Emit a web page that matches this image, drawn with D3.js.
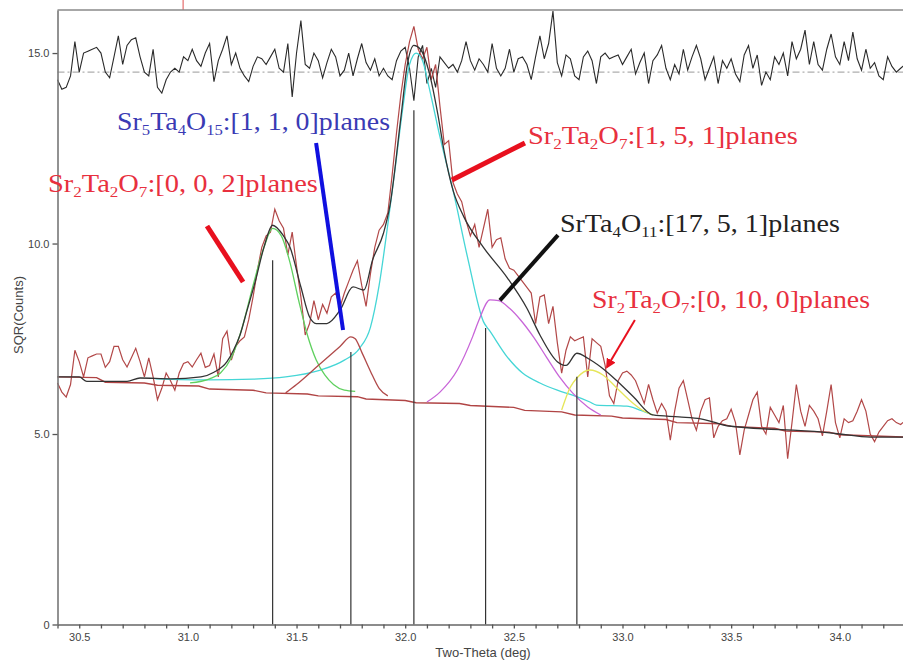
<!DOCTYPE html>
<html>
<head>
<meta charset="utf-8">
<script src="https://cdn.jsdelivr.net/npm/d3@7"></script>
<style>
  html, body { margin: 0; padding: 0; background: #fff; }
  svg { display: block; }
</style>
</head>
<body>
<svg id="chart" width="903" height="662"></svg>
<script>
// ---------------- DATA ----------------
const rawStart = 30.40;
const rawStep = 0.02;
const rawCounts = [
  6.34,6.1,5.97,6.3,7.2,6.9,6.5,7.0,7.05,7.1,
  7.1,6.75,6.9,7.3,7.3,6.95,6.76,7.0,7.25,6.9,
  6.5,7.0,6.5,5.9,6.2,6.6,6.4,6.15,6.6,6.85,
  6.9,6.76,6.95,7.12,6.75,6.8,7.1,6.5,7.5,7.7,
  6.94,7.3,7.45,7.55,8.0,8.6,9.3,9.9,10.2,10.3,
  10.9,10.6,10.4,9.7,10.3,9.4,8.6,7.6,7.9,8.5,
  8.0,8.4,8.17,8.6,8.7,8.33,8.7,9.0,9.3,9.55,
  8.9,8.35,9.2,9.9,10.35,10.5,10.8,11.8,12.9,13.9,
  14.7,15.3,15.7,15.1,14.85,15.15,14.3,14.7,13.6,12.6,
  12.7,11.6,11.3,11.1,10.6,10.2,10.5,9.9,10.4,10.9,
  9.9,10.1,10.15,9.6,9.35,9.3,9.15,9.0,8.85,8.7,
  7.9,8.6,8.65,7.9,8.35,7.4,6.6,7.2,7.55,7.45,
  7.5,7.55,6.5,7.5,7.4,7.3,6.8,6.0,5.8,6.4,
  6.6,6.65,6.55,6.4,6.1,5.8,6.3,5.9,5.55,5.8,
  5.6,4.84,5.6,6.2,6.4,5.9,5.4,5.1,5.6,5.9,
  5.95,4.9,5.2,5.35,5.4,5.65,5.3,4.45,5.1,5.5,
  5.9,6.1,5.2,5.0,5.7,5.5,5.3,5.75,4.35,5.3,
  6.3,5.6,5.2,5.75,5.6,5.4,4.95,5.6,6.3,5.3,
  4.9,5.4,5.3,5.35,5.6,5.9,5.6,5.0,4.8,5.05,
  5.2,5.35,5.4,5.3,5.25,5.35
];
const residual = [
  14.3,14.05,14.1,14.4,15.3,14.5,15.0,15.05,15.1,15.15,
  15.0,14.5,14.35,14.9,15.45,14.7,15.2,15.35,15.4,14.9,
  14.5,14.4,15.1,14.1,13.95,14.3,14.5,14.6,14.5,14.9,
  14.8,15.1,14.8,14.65,15.0,15.25,14.25,14.8,15.1,15.45,
  14.7,15.0,14.6,14.4,14.25,14.65,14.9,14.85,14.7,14.9,
  15.1,14.6,14.5,15.25,13.85,15.0,15.85,14.7,14.6,15.0,
  14.8,14.35,14.75,15.1,14.9,14.4,14.55,15.0,14.4,14.85,
  15.25,14.75,14.55,14.85,14.4,14.6,14.4,14.3,14.8,15.05,
  15.15,14.6,13.75,14.9,15.2,14.2,14.6,14.1,14.9,14.75,
  14.6,14.7,14.5,14.8,15.3,14.8,14.55,14.85,14.7,14.5,
  15.25,14.6,14.4,14.6,15.1,14.5,14.85,14.9,14.7,14.3,
  14.9,15.45,14.85,15.25,16.1,14.75,14.4,14.95,14.85,14.4,
  14.3,14.9,15.05,14.8,14.2,14.9,15.0,14.85,14.9,14.95,
  14.7,14.9,15.1,14.45,14.75,15.0,14.2,14.8,14.95,15.2,
  14.6,14.3,14.7,14.45,15.1,14.55,14.9,15.2,14.85,14.3,
  14.6,14.9,14.2,14.8,14.6,14.85,14.45,14.25,14.95,15.2,
  14.6,14.95,14.15,14.5,14.3,14.9,14.7,15.0,14.4,15.3,
  14.85,15.1,15.6,14.7,15.3,14.7,14.55,15.1,15.5,14.9,
  14.7,15.3,14.8,15.55,14.85,14.55,15.1,14.6,14.75,14.4,
  14.3,14.9,14.65,14.5,14.6,14.7
];
const residualRef = 14.5;

const fitTotal = [
  [30.40,6.5],[30.50,6.5],[30.535,6.38],[30.72,6.38],[30.78,6.47],[30.92,6.45],
  [31.06,6.5],[31.12,6.62],[31.18,6.9],[31.21,7.2],[31.24,7.6],[31.27,8.2],
  [31.31,9.0],[31.35,9.9],[31.39,10.48],[31.44,10.2],[31.47,9.9],[31.52,8.86],
  [31.56,8.07],[31.59,7.9],[31.64,7.9],[31.70,8.25],[31.76,8.86],[31.81,8.78],
  [31.85,9.57],[31.90,10.27],[31.93,11.0],[31.98,13.3],[32.01,14.7],[32.04,15.2],
  [32.07,15.1],[32.11,14.5],[32.15,13.4],[32.18,12.4],[32.22,11.4],[32.27,10.7],
  [32.36,9.9],[32.47,9.1],[32.56,8.3],[32.62,7.6],[32.70,6.9],[32.74,6.8],
  [32.79,7.12],[32.84,6.99],[32.90,6.76],[32.97,6.42],[33.05,5.98],[33.14,5.5],
  [33.26,5.45],[33.36,5.4],[33.42,5.31],[33.49,5.21],[33.92,5.05],[34.0,5.0],
  [34.14,4.92],[34.30,4.92]
];
const background = [
  [30.40,6.50],[30.58,6.48],[30.62,6.36],[30.80,6.34],[30.86,6.28],[31.05,6.26],
  [31.10,6.18],[31.30,6.15],[31.36,6.08],[31.55,6.05],[31.60,6.0],[31.78,5.98],
  [31.82,5.92],[32.00,5.88],[32.05,5.82],[32.25,5.80],[32.30,5.75],[32.50,5.70],
  [32.55,5.62],[32.72,5.58],[32.78,5.50],[32.95,5.47],[33.0,5.42],[33.20,5.38],
  [33.25,5.30],[33.45,5.27],[33.50,5.20],[33.70,5.15],[33.75,5.08],[33.95,5.05],
  [34.0,4.98],[34.30,4.92]
];
const peakGreen = [
  [31.01,6.34],[31.10,6.45],[31.15,6.6],[31.20,7.0],[31.25,7.8],[31.30,8.9],
  [31.35,9.9],[31.39,10.4],[31.43,10.2],[31.47,9.5],[31.51,8.5],[31.55,7.6],
  [31.59,6.95],[31.63,6.55],[31.67,6.3],[31.72,6.15],[31.77,6.12]
];
const peakCyan = [
  [30.85,6.45],[31.10,6.42],[31.30,6.44],[31.45,6.5],[31.61,6.68],[31.72,6.94],
  [31.79,7.25],[31.84,7.8],[31.88,8.9],[31.92,10.5],[31.95,11.8],[31.99,13.6],
  [32.02,14.7],[32.05,15.0],[32.08,14.8],[32.11,14.1],[32.16,12.8],[32.22,11.4],
  [32.29,9.56],[32.36,7.95],[32.39,7.7],[32.47,7.02],[32.54,6.6],[32.62,6.34],
  [32.70,6.15],[32.77,6.02],[32.85,5.84],[32.88,5.76],[33.02,5.73],[33.08,5.63],
  [33.14,5.5]
];
const peakBrown = [
  [31.45,6.08],[31.50,6.3],[31.60,6.8],[31.70,7.3],[31.75,7.55],[31.77,7.5],
  [31.80,7.15],[31.84,6.65],[31.88,6.2],[31.92,6.0]
];
const peakMagenta = [
  [32.10,5.84],[32.16,6.1],[32.24,6.68],[32.31,7.55],[32.34,8.0],[32.39,8.52],
  [32.43,8.5],[32.48,8.3],[32.53,8.0],[32.59,7.55],[32.65,7.02],[32.71,6.5],
  [32.77,6.08],[32.84,5.71],[32.90,5.5]
];
const peakYellow = [
  [32.72,5.63],[32.76,6.23],[32.79,6.47],[32.85,6.68],[32.91,6.55],[32.97,6.23],
  [33.03,5.9],[33.09,5.63],[33.14,5.5]
];
// peak position markers: [two-theta, height]
const dropLines = [[31.39,9.56],[31.75,7.15],[32.04,13.5],[32.37,7.78],[32.79,6.5]];

const xTickMinor = d3.range(304, 343).map(d => d / 10);
const xTickLabels = ["30.5","31.0","31.5","32.0","32.5","33.0","33.5","34.0"];
const yTickValues = [0, 5, 10, 15];
const yTickLabels = ["0", "5.0", "10.0", "15.0"];

// annotations (phase label pieces: [text, isSubscript])
const annotations = [
  { parts: [["Sr",0],["2",1],["Ta",0],["2",1],["O",0],["7",1],[":[0, 0, 2]planes",0]],
    at: [30.356, 11.35], width: 270, color: "#e8303e",
    pointer: [[31.088,10.46],[31.254,8.99]], pw: 5, pc: "#e8101e" },
  { parts: [["Sr",0],["5",1],["Ta",0],["4",1],["O",0],["15",1],[":[1, 1, 0]planes",0]],
    at: [30.674, 12.98], width: 273, color: "#3a3ab4",
    pointer: [[31.590,12.64],[31.714,7.73]], pw: 4, pc: "#1010e0" },
  { parts: [["Sr",0],["2",1],["Ta",0],["2",1],["O",0],["7",1],[":[1, 5, 1]planes",0]],
    at: [32.565, 12.60], width: 270, color: "#e8303e",
    pointer: [[32.551,12.64],[32.215,11.67]], pw: 5, pc: "#e8101e" },
  { parts: [["SrTa",0],["4",1],["O",0],["11",1],[":[17, 5, 1]planes",0]],
    at: [32.712, 10.30], width: 280, color: "#222",
    pointer: [[32.703,10.22],[32.436,8.51]], pw: 4, pc: "#111" },
  { parts: [["Sr",0],["2",1],["Ta",0],["2",1],["O",0],["7",1],[":[0, 10, 0]planes",0]],
    at: [32.860, 8.31], width: 278, color: "#e8303e",
    pointer: [[33.057,7.99],[32.929,6.76]], pw: 2, pc: "#e8101e", arrow: true }
];

// ---------------- DRAW ----------------
const svg = d3.select("#chart");
const x = d3.scaleLinear().domain([30.4, 34.3]).range([57.5, 905]);
const y = d3.scaleLinear().domain([0, 16.13]).range([624.5, 10]);

const line = d3.line().x(d => x(d[0])).y(d => y(d[1]));
const smooth = d3.line().x(d => x(d[0])).y(d => y(d[1])).curve(d3.curveMonotoneX);

const rawPts = rawCounts.map((v, i) => [rawStart + i * rawStep, v]);
const resPts = residual.map((v, i) => [rawStart + i * rawStep, v]);

// marker above frame
svg.append("line").attr("x1", x(30.978)).attr("x2", x(30.978))
  .attr("y1", 0).attr("y2", y(16.13)).attr("stroke", "#e05050").attr("stroke-width", 1);

// frame top
svg.append("line").attr("x1", x(30.4)).attr("x2", 903).attr("y1", y(16.13)).attr("y2", y(16.13))
  .attr("stroke", "#8a8a8a").attr("stroke-width", 1.6);

// residual reference
svg.append("line").attr("x1", x(30.4)).attr("x2", 903)
  .attr("y1", y(residualRef)).attr("y2", y(residualRef))
  .attr("stroke", "#999").attr("stroke-width", 1).attr("stroke-dasharray", "7,3,2,3");

// residual curve
svg.append("path").attr("d", line(resPts)).attr("fill", "none")
  .attr("stroke", "#2a2a2a").attr("stroke-width", 1.1);

// raw data
svg.append("path").attr("d", line(rawPts)).attr("fill", "none")
  .attr("stroke", "#b24848").attr("stroke-width", 1.2);

// background
svg.append("path").attr("d", line(background)).attr("fill", "none")
  .attr("stroke", "#b04444").attr("stroke-width", 1.4);

// components
const comps = [
  [peakCyan, "#45d6d6"], [peakGreen, "#5fd05f"], [peakBrown, "#b04a4a"],
  [peakMagenta, "#c865d8"], [peakYellow, "#e6e65a"]
];
comps.forEach(([d, c]) => {
  svg.append("path").attr("d", smooth(d)).attr("fill", "none")
    .attr("stroke", c).attr("stroke-width", 1.3);
});

// total fit
svg.append("path").attr("d", smooth(fitTotal)).attr("fill", "none")
  .attr("stroke", "#333").attr("stroke-width", 1.3);

// drop lines
svg.selectAll(".drop").data(dropLines).enter().append("line")
  .attr("x1", d => x(d[0])).attr("x2", d => x(d[0]))
  .attr("y1", d => y(d[1])).attr("y2", y(0))
  .attr("stroke", "#333").attr("stroke-width", 1.2);

// axes
const xAxis = d3.axisBottom(x).tickValues(xTickMinor).tickSize(4).tickSizeOuter(0)
  .tickFormat(d => { const s = d.toFixed(1); return xTickLabels.includes(s) ? s : ""; });
const gx = svg.append("g").attr("transform", `translate(0,${y(0)})`).call(xAxis);
gx.select(".domain").attr("stroke", "#666").attr("stroke-width", 1.6);
gx.selectAll(".tick line").attr("stroke", "#555").attr("stroke-width", 1.3);
gx.selectAll(".tick text").attr("fill", "#444").attr("font-size", 11)
  .attr("font-family", "Liberation Sans, Arial, sans-serif").attr("dy", "0.9em");

const yAxis = d3.axisLeft(y).tickValues(yTickValues).tickSize(5).tickSizeOuter(0).tickPadding(3)
  .tickFormat((d, i) => yTickLabels[i]);
const gy = svg.append("g").attr("transform", `translate(${x(30.4)},0)`).call(yAxis);
gy.select(".domain").attr("stroke", "#777").attr("stroke-width", 1.6);
gy.selectAll(".tick line").attr("stroke", "#555").attr("stroke-width", 1.3);
gy.selectAll(".tick text").attr("fill", "#444").attr("font-size", 11)
  .attr("font-family", "Liberation Sans, Arial, sans-serif");

// axis titles
svg.append("text").attr("x", 483).attr("y", 657).attr("text-anchor", "middle")
  .attr("font-family", "Liberation Sans, Arial, sans-serif").attr("font-size", 13)
  .attr("fill", "#444").text("Two-Theta (deg)");
svg.append("text").attr("transform", "translate(23,315) rotate(-90)").attr("text-anchor", "middle")
  .attr("font-family", "Liberation Sans, Arial, sans-serif").attr("font-size", 13)
  .attr("fill", "#444").text("SQR(Counts)");

// annotations
const defs = svg.append("defs");
defs.append("marker").attr("id", "arrowRed").attr("viewBox", "0 0 10 10")
  .attr("refX", 8).attr("refY", 5).attr("markerWidth", 5).attr("markerHeight", 5)
  .attr("orient", "auto").append("path").attr("d", "M0,0 L10,5 L0,10 z").attr("fill", "#e8101e");

annotations.forEach(a => {
  const p = a.pointer;
  const ln = svg.append("line")
    .attr("x1", x(p[0][0])).attr("y1", y(p[0][1]))
    .attr("x2", x(p[1][0])).attr("y2", y(p[1][1]))
    .attr("stroke", a.pc).attr("stroke-width", a.pw);
  if (a.arrow) ln.attr("marker-end", "url(#arrowRed)");

  const t = svg.append("text")
    .attr("font-family", "Liberation Serif, DejaVu Serif, serif")
    .attr("font-size", 25).attr("fill", a.color);
  let shifted = false;
  a.parts.forEach(([s, sub]) => {
    const ts = t.append("tspan").text(s);
    if (sub) {
      ts.attr("font-size", 15).attr("dy", shifted ? 0 : 5);
      shifted = true;
    } else {
      ts.attr("dy", shifted ? -5 : 0);
      shifted = false;
    }
  });
  const w = t.node().getBBox().width;
  const sx = a.width / w;
  t.attr("transform", `translate(${x(a.at[0])},${y(a.at[1])}) scale(${sx},1)`);
});
</script>
</body>
</html>
